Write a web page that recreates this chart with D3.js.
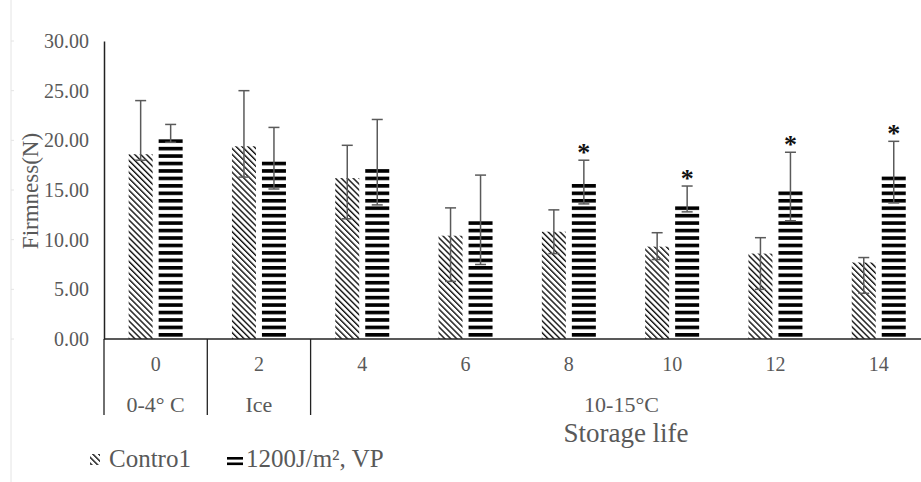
<!DOCTYPE html>
<html>
<head>
<meta charset="utf-8">
<script src="https://cdn.jsdelivr.net/npm/d3@7"></script>
<style>
  html, body { margin: 0; padding: 0; background: #fff; }
  svg { display: block; }
  text { font-family: "Liberation Serif", "Times New Roman", serif; }
</style>
</head>
<body>
<svg id="chart" width="921" height="482"></svg>
<script>
// Storage days and storage conditions
const days = ["0", "2", "4", "6", "8", "10", "12", "14"];
const conditionGroups = [
  { label: "0-4° C", from: "0", to: "0" },
  { label: "Ice", from: "2", to: "2" },
  { label: "10-15°C", from: "4", to: "14" }
];
const seriesNames = ["Contro1", "1200J/m², VP"];

// Firmness (N), mean values
const controlMean = [18.6, 19.4, 16.2, 10.4, 10.8, 9.3, 8.6, 7.7];
const treatedMean = [20.3, 18.0, 17.3, 11.9, 15.8, 13.6, 15.1, 16.6];
// Error bar ends (upper / lower)
const controlHigh = [24.0, 25.0, 19.5, 13.2, 13.0, 10.7, 10.2, 8.2];
const controlLow  = [18.0, 16.3, 12.1, 5.8, 8.6, 8.0, 5.0, 4.6];
const treatedHigh = [21.6, 21.3, 22.1, 16.5, 18.0, 15.4, 18.8, 19.9];
const treatedLow  = [19.8, 15.1, 13.5, 7.5, 13.6, 12.8, 11.9, 13.7];
// Significant difference markers on the treated series
const significant = [false, false, false, false, true, true, true, true];

const yTicks = [0, 5, 10, 15, 20, 25, 30];

const svg = d3.select("#chart");
const grayText = "#595959";

const plot = { left: 104, top: 41, bottom: 339, right: 930.4 };

const x = d3.scaleBand().domain(days).range([plot.left, plot.right]).paddingInner(0).paddingOuter(0);
const bw = x.bandwidth();
const xs = d3.scaleBand().domain(seriesNames)
  .range([bw / 2 - 27, bw / 2 + 27]).paddingInner(0.2).paddingOuter(0);
const y = d3.scaleLinear().domain([0, 30]).range([plot.bottom, plot.top]);

// Fill patterns: diagonal hatch for control, horizontal stripes for treatment
const defs = svg.append("defs");
const hatch = defs.append("pattern")
  .attr("id", "hatch").attr("patternUnits", "userSpaceOnUse")
  .attr("width", 4.2).attr("height", 4.2)
  .attr("patternTransform", "rotate(-45)");
hatch.append("rect").attr("x", 0).attr("y", 0).attr("width", 1.4).attr("height", 4.2).attr("fill", "#111");

const stripes = defs.append("pattern")
  .attr("id", "stripes").attr("patternUnits", "userSpaceOnUse")
  .attr("width", 20).attr("height", 7.45).attr("y", plot.bottom + 1.5);
stripes.append("rect").attr("x", 0).attr("y", 0).attr("width", 20).attr("height", 3.6).attr("fill", "#000");

// Faint left frame line with small ticks
svg.append("line").attr("x1", 11).attr("x2", 11).attr("y1", 0).attr("y2", 482)
  .attr("stroke", "#e4e4e4").attr("stroke-width", 1);
svg.append("g").selectAll("line").data(yTicks).join("line")
  .attr("x1", 11).attr("x2", 14).attr("y1", d => y(d)).attr("y2", d => y(d))
  .attr("stroke", "#e4e4e4");

// Y axis
const yAxis = d3.axisLeft(y).tickValues(yTicks).tickFormat(d3.format(".2f")).tickSize(0).tickPadding(15);
const yG = svg.append("g").attr("transform", `translate(${plot.left},0)`).call(yAxis);
yG.select(".domain").attr("stroke", "#222").attr("stroke-width", 1.5);
yG.selectAll("text").attr("fill", grayText).attr("font-size", 20)
  .attr("font-family", "Liberation Serif, serif");

// Y axis title
svg.append("text")
  .attr("transform", `translate(38,${191}) rotate(-90)`)
  .attr("text-anchor", "middle").attr("fill", grayText).attr("font-size", 23)
  .text("Firmness(N)");

// Bars
const rows = days.map((d, i) => ({
  day: d,
  values: [
    { s: seriesNames[0], v: controlMean[i], hi: controlHigh[i], lo: controlLow[i], fill: "url(#hatch)", star: false },
    { s: seriesNames[1], v: treatedMean[i], hi: treatedHigh[i], lo: treatedLow[i], fill: "url(#stripes)", star: significant[i] }
  ]
}));

const groups = svg.append("g").selectAll("g").data(rows).join("g")
  .attr("transform", d => `translate(${x(d.day)},0)`);

groups.selectAll("rect.bar").data(d => d.values).join("rect")
  .attr("class", "bar")
  .attr("x", d => xs(d.s)).attr("width", xs.bandwidth())
  .attr("y", d => y(d.v)).attr("height", d => y(0) - y(d.v))
  .attr("fill", d => d.fill);

// Error bars
const err = groups.selectAll("g.err").data(d => d.values).join("g").attr("class", "err")
  .attr("stroke", "#5a5a5a").attr("stroke-width", 1.5);
err.append("line")
  .attr("x1", d => xs(d.s) + xs.bandwidth() / 2).attr("x2", d => xs(d.s) + xs.bandwidth() / 2)
  .attr("y1", d => y(d.hi)).attr("y2", d => y(d.lo));
err.append("line")
  .attr("x1", d => xs(d.s) + xs.bandwidth() / 2 - 5.5).attr("x2", d => xs(d.s) + xs.bandwidth() / 2 + 5.5)
  .attr("y1", d => y(d.hi)).attr("y2", d => y(d.hi));
err.append("line")
  .attr("x1", d => xs(d.s) + xs.bandwidth() / 2 - 5.5).attr("x2", d => xs(d.s) + xs.bandwidth() / 2 + 5.5)
  .attr("y1", d => y(d.lo)).attr("y2", d => y(d.lo));

// Significance asterisks
groups.selectAll("text.star").data(d => d.values.filter(v => v.star)).join("text")
  .attr("class", "star")
  .attr("x", d => xs(d.s) + xs.bandwidth() / 2)
  .attr("y", d => y(d.hi) + 0.5)
  .attr("text-anchor", "middle").attr("font-size", 26).attr("font-weight", "bold")
  .attr("fill", "#111").attr("font-family", "DejaVu Sans, sans-serif")
  .text("*");

// X axis line
svg.append("line").attr("x1", plot.left).attr("x2", 921).attr("y1", y(0)).attr("y2", y(0))
  .attr("stroke", "#222").attr("stroke-width", 1.5);

// Day labels
svg.append("g").selectAll("text").data(days).join("text")
  .attr("x", d => x(d) + bw / 2).attr("y", 370.5)
  .attr("text-anchor", "middle").attr("fill", grayText).attr("font-size", 20)
  .text(d => d);

// Condition group dividers and labels
const dividerX = [plot.left];
conditionGroups.forEach(g => dividerX.push(x(g.to) + bw));
svg.append("g").selectAll("line").data(dividerX.filter(v => v < 921)).join("line")
  .attr("x1", d => d).attr("x2", d => d).attr("y1", y(0)).attr("y2", 415)
  .attr("stroke", "#222").attr("stroke-width", 1.3);

svg.append("g").selectAll("text").data(conditionGroups).join("text")
  .attr("x", g => g.from === g.to ? x(g.from) + bw / 2 : 621.5)
  .attr("y", 411.5)
  .attr("text-anchor", "middle").attr("fill", grayText).attr("font-size", 22)
  .text(g => g.label);

// X axis title
svg.append("text").attr("x", 626).attr("y", 442)
  .attr("text-anchor", "middle").attr("fill", grayText).attr("font-size", 27)
  .text("Storage life");

// Legend
const legend = svg.append("g");
legend.append("rect").attr("x", 90).attr("y", 454).attr("width", 10).attr("height", 11).attr("fill", "url(#hatch)");
legend.append("text").attr("x", 109).attr("y", 467).attr("fill", grayText).attr("font-size", 25).text(seriesNames[0]);
legend.append("rect").attr("x", 227).attr("y", 457).attr("width", 16).attr("height", 2.6).attr("fill", "#000");
legend.append("rect").attr("x", 227).attr("y", 462.5).attr("width", 16).attr("height", 2.6).attr("fill", "#000");
legend.append("text").attr("x", 246).attr("y", 467).attr("fill", grayText).attr("font-size", 25).text(seriesNames[1]);
</script>
</body>
</html>
